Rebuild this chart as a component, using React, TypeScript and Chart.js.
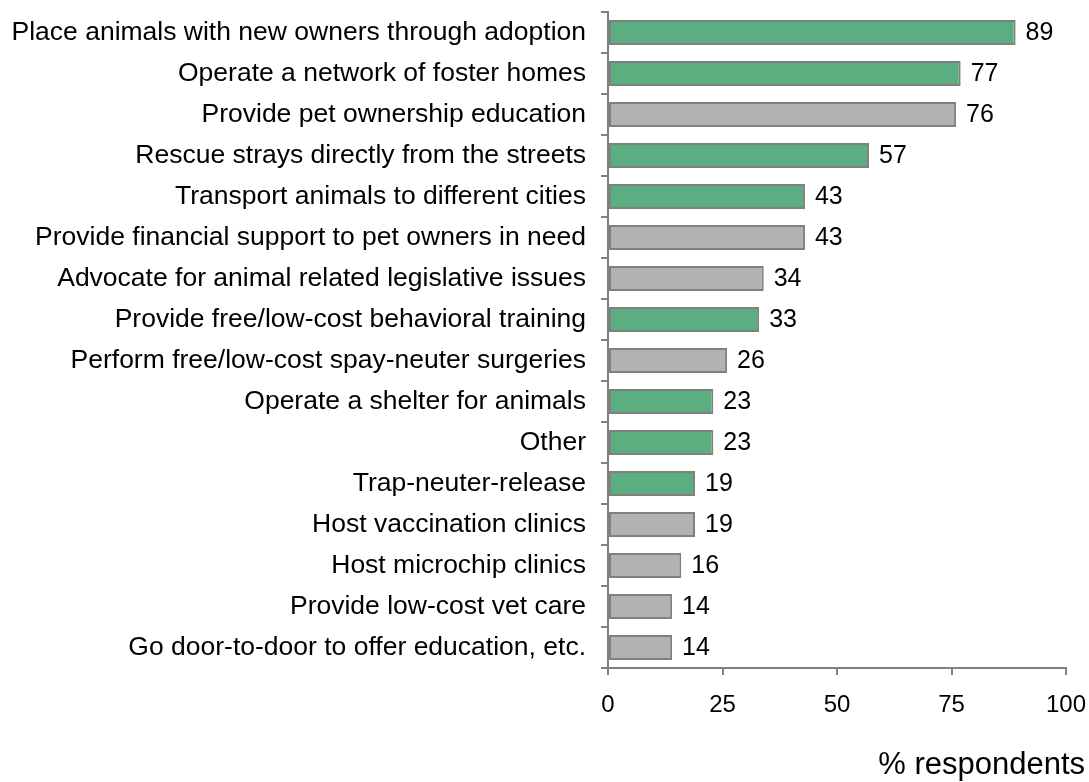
import React, { useEffect, useRef } from "react";
import { Chart, registerables } from "chart.js";

Chart.register(...registerables);

const categories = [
  "Place animals with new owners through adoption",
  "Operate a network of foster homes",
  "Provide pet ownership education",
  "Rescue strays directly from the streets",
  "Transport animals to different cities",
  "Provide financial support to pet owners in need",
  "Advocate for animal related legislative issues",
  "Provide free/low-cost behavioral training",
  "Perform free/low-cost spay-neuter surgeries",
  "Operate a shelter for animals",
  "Other",
  "Trap-neuter-release",
  "Host vaccination clinics",
  "Host microchip clinics",
  "Provide low-cost vet care",
  "Go door-to-door to offer education, etc.",
];
const values = [89, 77, 76, 57, 43, 43, 34, 33, 26, 23, 23, 19, 19, 16, 14, 14];
const highlighted = [true, true, false, true, true, false, false, true, false, true, true, true, false, false, false, false];
const xTicks = [0, 25, 50, 75, 100];
const xTitle = "% respondents";

const GREEN = "#5aae80";
const GRAY = "#b2b2b2";
const BORDER = "#808080";
const FONT = "'Liberation Sans', Arial, sans-serif";

export default function App() {
  const ref = useRef<HTMLCanvasElement>(null);
  useEffect(() => {
    const valueLabels = {
      id: "valueLabels",
      afterDatasetsDraw(chart: any) {
        const ctx = chart.ctx;
        const meta = chart.getDatasetMeta(0);
        ctx.save();
        ctx.font = `25px ${FONT}`;
        ctx.fillStyle = "#000";
        ctx.textAlign = "left";
        ctx.textBaseline = "middle";
        meta.data.forEach((el: any, i: number) => {
          ctx.fillText(String(values[i]), el.x + 10, el.y + 1);
        });
        ctx.restore();
      },
    };
    const xTitlePlugin = {
      id: "xTitlePlugin",
      afterDraw(chart: any) {
        const ctx = chart.ctx;
        ctx.save();
        ctx.font = `31px ${FONT}`;
        ctx.fillStyle = "#000";
        ctx.textAlign = "right";
        ctx.textBaseline = "alphabetic";
        ctx.fillText(xTitle, 1085, 774);
        ctx.restore();
      },
    };
    const chart = new Chart(ref.current!, {
      type: "bar",
      data: {
        labels: categories,
        datasets: [
          {
            data: values,
            backgroundColor: highlighted.map((h) => (h ? GREEN : GRAY)),
            borderColor: BORDER,
            borderWidth: 2,
            borderSkipped: false,
            categoryPercentage: 1,
            barPercentage: 0.61,
          },
        ],
      },
      options: {
        indexAxis: "y",
        animation: false,
        responsive: false,
        maintainAspectRatio: false,
        layout: { padding: { top: 12, right: 23, left: 0, bottom: 0 } },
        plugins: { legend: { display: false }, tooltip: { enabled: false } },
        scales: {
          x: {
            min: 0,
            max: 100,
            afterBuildTicks(scale: any) {
              scale.ticks = xTicks.map((v) => ({ value: v }));
            },
            afterFit(scale: any) {
              scale.height = 114;
              scale.paddingLeft = 0;
              scale.paddingRight = 0;
            },
            border: { display: true, color: BORDER, width: 2 },
            grid: {
              drawOnChartArea: false,
              drawTicks: true,
              tickLength: 7,
              color: BORDER,
              lineWidth: 2,
            },
            ticks: {
              font: { family: FONT, size: 24 },
              color: "#000",
              padding: 16,
              maxRotation: 0,
            },
          },
          y: {
            afterFit(scale: any) {
              scale.width = 608;
              scale.paddingTop = 0;
              scale.paddingBottom = 0;
            },
            border: { display: true, color: BORDER, width: 2 },
            grid: {
              drawOnChartArea: false,
              drawTicks: true,
              tickLength: 7,
              color: BORDER,
              lineWidth: 2,
              offset: true,
            },
            ticks: {
              font: { family: FONT, size: 26.5 },
              color: "#000",
              padding: 15,
              autoSkip: false,
            },
          },
        },
      },
      plugins: [valueLabels, xTitlePlugin],
    });
    return () => chart.destroy();
  }, []);
  return (
    <div style={{ position: "fixed", left: 0, top: 0, width: 1089, height: 782, background: "#fff" }}>
      <canvas ref={ref} width={1089} height={782} style={{ width: 1089, height: 782 }} />
    </div>
  );
}
